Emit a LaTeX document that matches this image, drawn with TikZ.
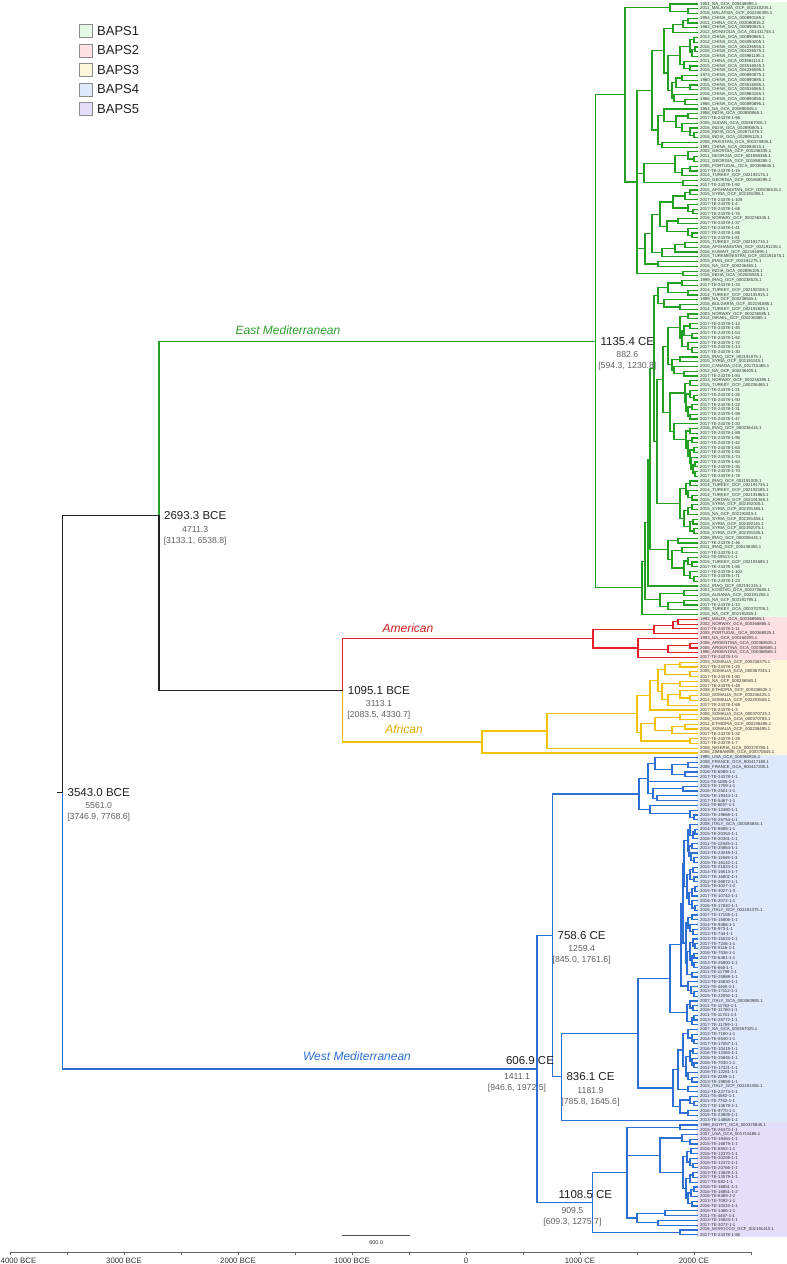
\documentclass[tikz,border=0pt]{standalone}
\usepackage{fontspec}
\setmainfont{Liberation Sans}
\usetikzlibrary{calc}

\definecolor{grn}{HTML}{23A023}
\definecolor{rd}{HTML}{E8202A}
\definecolor{yel}{HTML}{F2C100}
\definecolor{blu}{HTML}{2E6FD6}
\definecolor{blk}{HTML}{222222}
\definecolor{cEMc}{HTML}{2E9E2E}
\definecolor{cAMc}{HTML}{D01F1F}
\definecolor{cAFc}{HTML}{E0A800}
\definecolor{cWMc}{HTML}{2E6FD6}
\definecolor{bA}{HTML}{E4FAE4}
\definecolor{bB}{HTML}{FCE0E3}
\definecolor{bC}{HTML}{FDF6DA}
\definecolor{bD}{HTML}{DDE8FA}
\definecolor{bE}{HTML}{E5DEFA}

\tikzset{
  br/.style={line width=1.2pt, line cap=rect, line join=miter},
  leaflab/.style={anchor=west, inner sep=0pt, xshift=3pt, font=\fontsize{4.3}{4.3}\selectfont, text=black!80},
  nlab/.style={font=\fontsize{11.5}{12}\selectfont, text=black!88, inner sep=0pt},
  slab/.style={font=\fontsize{8.7}{9}\selectfont, text=black!62, inner sep=0pt},
  clab/.style={font=\itshape\fontsize{12}{13}\selectfont, inner sep=0pt},
  legbox/.style={draw=black!45, line width=0.6pt},
  legtxt/.style={anchor=west, inner sep=0pt, font=\fontsize{13}{14}\selectfont, text=black!88},
  axl/.style={draw=black!60, line width=0.6pt},
  axlab/.style={font=\fontsize{7.8}{8}\selectfont, text=black!80, inner sep=0pt},
  sbl/.style={draw=black!70, line width=0.7pt},
}

% ---------- stack-based tree machinery (postfix) ----------
\newcount\leafno \leafno=0
\newcount\ndcnt \ndcnt=0
\newcount\stkp \stkp=0
\def\cc{blk}
\def\stset#1#2#3#4{%
  \expandafter\xdef\csname sN#1\endcsname{#2}%
  \expandafter\xdef\csname sR#1\endcsname{#3}%
  \expandafter\xdef\csname sC#1\endcsname{#4}}
\def\stgetA#1{\edef\kAn{\csname sN#1\endcsname}\edef\kAr{\csname sR#1\endcsname}\edef\kAc{\csname sC#1\endcsname}}
\def\stgetB#1{\edef\kBn{\csname sN#1\endcsname}\edef\kBr{\csname sR#1\endcsname}\edef\kBc{\csname sC#1\endcsname}}
\def\stgetM#1{\edef\kMn{\csname sN#1\endcsname}\edef\kMr{\csname sR#1\endcsname}\edef\kMc{\csname sC#1\endcsname}}
\def\stgetP#1{\edef\kPn{\csname sN#1\endcsname}\edef\kPr{\csname sR#1\endcsname}\edef\kPc{\csname sC#1\endcsname}}
\newcommand\lf[1]{%
  \pgfmathsetmacro\yy{4+4.77*\the\leafno}%
  \edef\tnm{T\the\leafno}\edef\lnm{L\the\leafno}%
  \coordinate (\tnm) at (697,\yy);%
  \node[leaflab] (\lnm) at (\tnm) {\detokenize{#1}};%
  \global\advance\stkp by 1\relax
  \stset{\the\stkp}{\tnm}{\the\leafno}{\cc}%
  \global\advance\leafno by 1\relax}
\newcommand\mkme[1]{%
  \global\advance\ndcnt by 1\relax \edef\me{N\the\ndcnt}%
  \pgfmathsetmacro\rr{(\kAr+\kBr)/2}%
  \pgfmathsetmacro\yy{4+4.77*\rr}%
  \pgfmathsetmacro\yA{4+4.77*\kAr}%
  \pgfmathsetmacro\yB{4+4.77*\kBr}%
  \coordinate (\me) at (#1,\yy);%
  \draw[br,draw=\kAc] (\me) -- (#1,\yA) -- (\kAn);%
  \draw[br,draw=\kBc] (\me) -- (#1,\yB) -- (\kBn);}
\newcommand\J[1]{%
  \stgetA{\the\numexpr\stkp-1\relax}\stgetB{\the\stkp}%
  \mkme{#1}%
  \global\advance\stkp by -1\relax
  \stset{\the\stkp}{\me}{\rr}{\cc}}
\newcommand\Jt[1]{%
  \stgetA{\the\numexpr\stkp-2\relax}\stgetM{\the\numexpr\stkp-1\relax}\stgetB{\the\stkp}%
  \mkme{#1}%
  \pgfmathsetmacro\yM{4+4.77*\kMr}%
  \draw[br,draw=\kMc] (#1,\yM) -- (\kMn);%
  \global\advance\stkp by -2\relax
  \stset{\the\stkp}{\me}{\rr}{\cc}}
\newcommand\Jq[1]{%
  \stgetA{\the\numexpr\stkp-3\relax}\stgetM{\the\numexpr\stkp-2\relax}\stgetP{\the\numexpr\stkp-1\relax}\stgetB{\the\stkp}%
  \mkme{#1}%
  \pgfmathsetmacro\yM{4+4.77*\kMr}%
  \pgfmathsetmacro\yP{4+4.77*\kPr}%
  \draw[br,draw=\kMc] (#1,\yM) -- (\kMn);%
  \draw[br,draw=\kPc] (#1,\yP) -- (\kPn);%
  \global\advance\stkp by -3\relax
  \stset{\the\stkp}{\me}{\rr}{\cc}}
\newcommand\nm[1]{\edef\tmpn{\csname sN\the\stkp\endcsname}\coordinate (#1) at (\tmpn);}
\newcommand\rlab[4]{%
  \node[nlab,anchor=west] (lb#1) at ([xshift=5pt]#1) {#2};
  \node[slab] (lbs#1) at ([yshift=-13.5pt]lb#1.center) {#3};
  \node[slab] (lbt#1) at ([yshift=-25pt]lb#1.center) {#4};}
\newcommand\alab[4]{%
  \node[nlab] (lb#1) at ([xshift=-7pt,yshift=8pt]#1) {#2};
  \node[slab] (lbs#1) at ([xshift=-20pt,yshift=-8pt]#1) {#3};
  \node[slab] (lbt#1) at ([xshift=-20pt,yshift=-19.5pt]#1) {#4};}

% ---------- BAPS1 ----------
\def\stA{\lf{1951_NA_GCA_009448085.1}\lf{2011_MALAYSIA_GCF_002240205.1}\lf{2016_MALAYSIA_GCF_002240305.1}\J{688}\J{670}}
\def\stChA{\lf{1954_CHINA_GCA_000890165.2}\lf{2011_CHINA_GCA_002080815.2}\J{688}\lf{1963_CHINA_GCA_000890825.1}\J{683}\lf{2012_MONGOLIA_GCA_001431745.1}\J{673}}
\def\stChB{\lf{2013_CHINA_GCA_000890865.1}\lf{2012_CHINA_GCA_003094205.1}\J{694}%
  \lf{2016_CHINA_GCA_004236555.1}\lf{2016_CHINA_GCA_004236575.1}\J{695}\lf{2016_CHINA_GCA_003981185.1}\J{692}\J{690}%
  \lf{2011_CHINA_GCA_003984115.1}\lf{2015_CHINA_GCA_003516045.1}\lf{2016_CHINA_GCA_004236595.1}\J{690}\J{684}\J{680}}
\def\stChC{\lf{1973_CHINA_GCA_000890875.1}\lf{1960_CHINA_GCA_000890885.1}\J{682}\lf{2015_CHINA_GCA_003516085.1}\lf{2015_CHINA_GCA_003516065.1}\J{690}\J{676}%
  \lf{2016_CHINA_GCA_003984165.1}\lf{1966_CHINA_GCA_000890855.1}\lf{1966_CHINA_GCA_000890895.1}\J{685}\J{674}\J{672}}
\def\stChina{\stChA\stChB\stChC\J{668}\J{664}}
\def\stInd{\lf{1954_NA_GCA_000890845.1}\lf{1958_INDIA_GCA_000890865.1}\lf{2017-TE-24378-1-98}\J{688}%
  \lf{2005_SUDAN_GCA_000367005.1}\lf{2016_INDIA_GCA_002890805.1}\lf{2016_INDIA_GCA_002871075.1}\lf{2016_INDIA_GCA_002895125.1}\J{694}\J{690}\J{682}\J{676}\J{664}%
  \lf{2008_PAKISTAN_GCA_000370805.1}\lf{1991_CHINA_GCA_002084015.1}\J{662}\J{658}}
\def\stGeo{\lf{2002_GEORGIA_GCF_000236335.1}\lf{2011_GEORGIA_GCF_001858365.1}\lf{2012_GEORGIA_GCF_001858285.1}\J{694}\J{688}%
  \lf{2006_PORTUGAL_GCA_000368845.1}\lf{2017-TE-24378-1-15}\J{690}\lf{2014_TURKEY_GCF_002192175.1}\J{682}\J{675}%
  \lf{2010_GEORGIA_GCF_001858295.1}\lf{2017-TE-24378-1-92}\J{683}\J{644}}
\def\stMidA{\lf{2015_AFGHANISTAN_GCF_000236515.1}\lf{2015_SYRIA_GCF_002191095.1}\J{690}\lf{2017-TE-24378-1-106}\J{685}%
  \lf{2017-TE-24378-1-4}\lf{2017-TE-24378-1-68}\lf{2017-TE-24378-1-76}\J{693}\J{688}\J{673}%
  \lf{2016_NORWAY_GCF_000236345.1}\lf{2017-TE-24378-1-37}\J{678}%
  \lf{2017-TE-24378-1-41}\lf{2017-TE-24378-1-88}\lf{2017-TE-24378-1-81}\J{692}\J{688}\J{667}\J{660}}
\def\stMid{\stMidA\lf{2015_TURKEY_GCF_002191715.1}\lf{2016_AFGHANISTAN_GCF_002191235.1}\J{685}\lf{2016_KUWAIT_GCF_002191695.1}\J{675}%
  \lf{2015_TURKMENISTAN_GCF_002191575.1}\J{662}\J{652}%
  \lf{2015_IRAN_GCF_002191275.1}\lf{2016_NA_GCF_000236465.1}\J{658}\J{645}}
\def\stB{\stChina\stInd\J{652}\stGeo\stMid\lf{2016_INDIA_GCA_002895105.1}\lf{2016_INDIA_GCA_002005535.1}\J{683}\Jq{637}}
\def\stCone{\stA\stB\J{625}}

\def\stRa{\lf{1999_IRAQ_GCF_000238525.1}\lf{2017-TE-24378-1-33}\J{682}\lf{2014_TURKEY_GCF_002192155.1}\lf{2014_TURKEY_GCF_002191915.1}\J{688}\J{668}%
  \lf{1999_NA_GCF_000238555.1}\lf{2016_BULGARIA_GCF_002191885.1}\lf{2014_TURKEY_GCF_002191625.1}\J{680}\J{664}\J{658}}
\def\stSa{\lf{2003_NORWAY_GCF_000236585.1}\lf{2014_ISRAEL_GCF_000236365.1}\J{688}%
  \lf{2017-TE-24378-1-12}\lf{2017-TE-24378-1-45}\J{690}\lf{2017-TE-24378-1-54}\lf{2017-TE-24378-1-62}\J{692}\J{684}%
  \lf{2017-TE-24378-1-72}\lf{2017-TE-24378-1-14}\lf{2017-TE-24378-1-30}\J{692}\J{688}\J{682}\J{680}%
  \lf{2015_IRAQ_GCF_002191875.1}\lf{2015_SYRIA_GCF_002191515.1}\J{680}%
  \lf{2010_CANADA_GCA_001715465.1}\lf{2012_NA_GCF_000236405.1}\lf{2017-TE-24378-1-84}\J{684}\J{674}\J{672}\J{668}}
\def\stSb{\lf{2013_NORWAY_GCF_000236385.1}\lf{2015_TURKEY_GCF_000236465.1}\J{690}%
  \lf{2017-TE-24378-1-21}\lf{2017-TE-24378-1-26}\lf{2017-TE-24378-1-50}\J{694}\J{690}%
  \lf{2017-TE-24378-1-22}\lf{2017-TE-24378-1-31}\J{692}\lf{2017-TE-24378-1-99}\lf{2017-TE-24378-1-47}\J{690}\J{688}\J{686}\J{685}%
  \lf{2017-TE-24378-1-20}%
  \lf{2016_IRAQ_GCF_000236415.1}\lf{2017-TE-24378-1-89}\J{690}%
  \lf{2017-TE-24378-1-96}\lf{2017-TE-24378-1-42}\J{692}%
  \lf{2017-TE-24378-1-63}\lf{2017-TE-24378-1-65}\J{694}%
  \lf{2017-TE-24378-1-74}%
  \lf{2017-TE-24378-1-64}\lf{2017-TE-24378-1-35}\J{695}\lf{2017-TE-24378-1-70}\lf{2017-TE-24378-1-78}\J{695}%
  \J{693}\J{691}\J{690}\J{688}\J{686}\J{674}\J{670}}
\def\stRc{\lf{2014_IRAQ_GCF_002191005.1}\lf{2014_TURKEY_GCF_002191735.1}\J{690}%
  \lf{2014_TURKEY_GCF_002192185.1}\lf{2014_TURKEY_GCF_002191865.1}\lf{2015_JORDAN_GCF_002191365.1}\J{692}\J{688}\J{686}%
  \lf{2015_SYRIA_GCF_002192005.1}\lf{2015_SYRIA_GCF_002191485.1}\J{692}\lf{2015_NA_GCF_002191815.1}\J{688}%
  \lf{2015_SYRIA_GCF_002191455.1}\lf{2015_SYRIA_GCF_002192115.1}\J{693}\lf{2016_SYRIA_GCF_002192075.1}\lf{2016_SYRIA_GCF_002191535.1}\J{694}\J{690}\J{684}\J{680}}
\def\stRd{\lf{2008_IRAQ_GCF_000008445.1}\lf{2017-TE-24378-1-46}\J{678}%
  \lf{2011_IRAQ_GCF_000236355.1}\lf{2017-TE-24378-1-2}\J{682}%
  \lf{2011-TE-19513-1-1}\lf{2015_TURKEY_GCF_002191685.1}\lf{2017-TE-24378-1-85}\J{692}\J{688}%
  \lf{2017-TE-24378-1-102}\lf{2017-TE-24378-1-71}\lf{2017-TE-24378-1-23}\J{694}\J{690}\J{684}\J{672}\J{668}}
\def\stCtwo{\stRa\stSa\stSb\J{663}\stRc\J{657}\J{654}\stRd\J{650}\lf{2014_IRAQ_GCF_002191315.1}\J{648}%
  \lf{2001_KOSOVO_GCA_000370685.1}\lf{2015_ALBANIA_GCF_002191255.1}\J{684}%
  \lf{2015_NA_GCF_002191795.1}\lf{2017-TE-24378-1-13}\J{684}\lf{2005_TURKEY_GCA_000370705.1}\J{668}\J{660}\J{645}%
  \lf{2015_NA_GCF_002191835.1}\J{642}}
\def\stEM{\stCone\stCtwo\J{595.4}}

% ---------- BAPS2 / BAPS3 ----------
\def\stAM{\lf{1992_MALTA_GCA_000368965.1}\lf{2002_NORWAY_GCA_000368865.1}\J{678}\lf{2017-TE-24378-1-11}\J{673}\lf{2005_PORTUGAL_GCA_000368925.1}\J{654}%
  \lf{1993_NA_GCA_000160205.1}\lf{2006_ARGENTINA_GCA_000368525.1}\lf{2006_ARGENTINA_GCA_000368585.1}\J{690}\lf{1996_ARGENTINA_GCA_000368565.1}\J{668}%
  \lf{2017-TE-24378-1-5}\Jt{638}\J{593}}
\def\stAF{\lf{2003_SOMALIA_GCF_000236375.1}\lf{2017-TE-24378-1-25}\J{680}\lf{2005_SOMALIA_GCA_000367045.1}\lf{2017-TE-24378-1-80}\J{690}\J{665}%
  \lf{2005_NA_GCF_000236565.1}\lf{2017-TE-24378-1-48}\J{680}%
  \lf{2008_ETHIOPIA_GCF_000236525.1}\lf{2010_SOMALIA_GCF_000236425.1}\lf{2014_SOMALIA_GCF_002191505.1}\J{690}\J{680}%
  \lf{2017-TE-24378-1-69}\J{668}\J{662}\J{658}%
  \lf{2017-TE-24378-1-3}\J{650}%
  \lf{2006_SOMALIA_GCA_000370725.1}\lf{2006_SOMALIA_GCA_000370765.1}\J{680}%
  \lf{2012_ETHIOPIA_GCF_000236485.1}\lf{2016_SOMALIA_GCF_000236495.1}\J{685}\lf{2017-TE-24378-1-32}\J{672}\J{655}%
  \lf{2017-TE-24378-1-29}\lf{2017-TE-24378-1-7}\J{690}\J{641}\J{637}%
  \lf{2008_NIGERIA_GCA_000370785.1}\J{547}%
  \lf{2006_ZIMBABWE_GCA_000370645.1}\J{482}}

% ---------- BAPS4 / BAPS5 ----------
\def\stU{\lf{1995_USA_GCA_000960815.1}\lf{2008_FRANCE_GCA_900417185.1}\lf{2008_FRANCE_GCA_900417205.1}\J{688}%
  \lf{2016-TE-6089-1-1}\lf{2017-TE-24378-1-1}\J{685}\J{672}\J{655}%
  \lf{2011-TE-1085-1-1}%
  \lf{2013-TE-1759-1-1}\lf{2016-TE-2501-1-1}\J{683}\lf{2016-TE-19344-1-1}\lf{2017-TE-5467-1-1}\J{657}\J{653}\Jt{648}%
  \lf{2011-TE-6057-1-1}\lf{2013-TE-12480-1-1}\lf{2015-TE-19668-1-1}\lf{2013-TE-25753-1-1}\J{694}\J{690}\J{650}\J{639}}
\def\stXone{\lf{2008_ITALY_GCA_000385845.1}\lf{2014-TE-8688-1-1}\lf{2015-TE-20353-1-1}\J{695}\lf{2016-TE-20301-1-1}\J{693}\J{690}%
  \lf{2011-TE-12849-1-1}\lf{2013-TE-25864-1-1}\J{692}%
  \lf{2012-TE-24249-1-1}\lf{2015-TE-11849-1-3}\lf{2015-TE-16142-1-1}\J{694}\J{691}\J{689}\J{688}%
  \lf{2015-TE-21824-1-1}\lf{2014-TE-16513-1-7}\J{693}\lf{2017-TE-16802-1-1}\lf{2012-TE-26872-1-1}\J{694}\J{690}%
  \lf{2015-TE-3027-1-2}\lf{2015-TE-3027-1-3}\J{695}\lf{2017-TE-10742-1-1}\J{692}%
  \lf{2016-TE-2072-1-1}\lf{2016-TE-17840-1-1}\lf{2016_ITALY_GCF_002191375.1}\J{695}\J{692}\J{689}\J{687}\J{684}}
\def\stXtwo{\lf{2017-TE-17159-1-1}\lf{2013-TE-15806-1-1}\J{692}\lf{2014-TE-9486-1-1}\lf{2013-TE-973-1-1}\lf{2013-TE-744-1-1}\J{693}\J{690}\J{688}%
  \lf{2013-TE-15023-1-1}\lf{2017-TE-7246-1-1}\lf{2016-TE-5116-1-1}\J{695}\J{693}%
  \lf{2016-TE-7536-1-1}\lf{2017-TE-6481-1-1}\J{694}\lf{2013-TE-25800-1-1}\lf{2016-TE-660-1-1}\J{694}\J{692}\J{690}%
  \lf{2011-TE-11798-1-1}\lf{2013-TE-25868-1-1}\J{692}\J{687}\J{686}}
\def\stXbot{\lf{2013-TE-15830-1-1}\lf{2011-TE-4460-1-1}\lf{2013-TE-17112-1-1}\lf{2015-TE-22092-1-1}\J{694}\J{691}\J{688}}
\def\stY{\lf{2007_ITALY_GCA_000360985.1}\lf{2011-TE-11762-1-1}\lf{2016-TE-11760-1-1}\J{693}\J{690}%
  \lf{2011-TE-11761-1-1}\lf{2013-TE-25772-1-1}\J{694}\lf{2017-TE-11769-1-1}\J{692}\J{687}}
\def\stMb{\lf{2007_NA_GCA_000357025.1}\lf{2012-TE-7180-1-1}\lf{2014-TE-5540-1-1}\lf{2017-TE-17057-1-1}\J{694}\J{692}\J{688}%
  \lf{2016-TE-10419-1-1}\lf{2016-TE-12383-1-1}\J{693}\lf{2016-TE-25845-1-1}\lf{2016-TE-7030-1-1}\lf{2012-TE-17321-1-1}\J{694}\J{692}\J{690}%
  \lf{2016-TE-12261-1-1}\lf{2011-TE-2289-1-1}\lf{2013-TE-19859-1-1}\J{692}\J{688}\J{686}\J{683}%
  \lf{2015_ITALY_GCF_002191355.1}\lf{2012-TE-22773-1-1}\J{688}\J{678}%
  \lf{2011-TE-4582-1-1}\lf{2011-TE-7752-1-1}\lf{2017-TE-13679-1-1}\J{694}\J{690}\lf{2016-TE-9770-1-1}\lf{2015-TE-23809-1-1}\J{688}\J{680}\J{673}}
\def\stWE{\stXone\stXtwo\J{683}\stXbot\J{681}\stY\J{670}\stMb\J{638}\lf{2013-TE-14868-1-1}\J{561.3}\nm{w836}}
\def\stQmid{\lf{2007_USA_GCA_001715485.1}\lf{2013-TE-19464-1-1}\lf{2015-TE-16879-1-1}\J{690}\J{682}%
  \lf{2016-TE-6652-1-1}\lf{2016-TE-12370-1-1}\J{691}\lf{2015-TE-20259-1-1}\lf{2016-TE-12372-1-1}\lf{2015-TE-20766-1-1}\J{693}\J{690}\J{687}%
  \lf{2013-TE-13829-1-1}\lf{2017-TE-13579-1-1}\J{693}\lf{2017-TE-582-1-1}\J{690}%
  \lf{2016-TE-16851-1-1}\lf{2016-TE-16851-1-2}\J{694}\lf{2016-TE-6469-1-2}\J{691}\lf{2013-TE-7092-1-1}\lf{2016-TE-10315-1-1}\J{692}\J{688}\J{686}\J{683}\J{660}}
\def\stQbot{\lf{2016-TE-1486-1-1}\lf{2011-TE-4467-1-1}\J{665}\lf{2013-TE-15824-1-1}\lf{2017-TE-3072-1-1}\J{658}\J{637}}
\def\stWM{\stU\stWE\J{552.5}\nm{w758}%
  \lf{1998_EGYPT_GCA_000370845.1}\lf{2015-TE-26373-1-1}\J{680}\stQmid\stQbot\Jt{627}%
  \lf{2016_MOROCCO_GCF_002191415.1}\lf{2017-TE-24378-1-86}\J{680}\J{592.4}\nm{w1108}\J{537}}

\begin{document}
\begin{tikzpicture}[x=1pt,y=-1pt]
\useasboundingbox (0,0) rectangle (787,1264);
\fill[white] (0,0) rectangle (787,1264);

% BAPS bands behind the tip labels
\fill[bA] (697,1.6) rectangle (787,616.9);
\fill[bB] (697,616.9) rectangle (787,659.9);
\fill[bC] (697,659.9) rectangle (787,755.3);
\fill[bD] (697,755.3) rectangle (787,1122.6);
\fill[bE] (697,1122.6) rectangle (787,1237.0);

% legend
\foreach \i/\cl/\tx in {0/bA/BAPS1,1/bB/BAPS2,2/bC/BAPS3,3/bD/BAPS4,4/bE/BAPS5}{
  \pgfmathsetmacro\ly{31+19.5*\i}
  \draw[legbox,fill=\cl] (79,\ly-6.5) rectangle (92,\ly+6.5);
  \node[legtxt] (leg\i) at (97,\ly) {\tx};
}

% tree (postfix: leaves push, joins pop)
\def\cc{grn}\stEM\nm{em}
\def\cc{rd}\stAM\nm{am}
\def\cc{yel}\stAF\nm{af}
\def\cc{blk}\J{342.7}\nm{n1095}
\J{159}\nm{n2693}
\def\cc{blu}\stWM\nm{w607}
\def\cc{blk}\J{62.5}\nm{root}
\draw[br,blk] (root) -- ++(-5,0);

% node labels
\rlab{root}{3543.0 BCE}{5561.0}{[3746.9, 7768.6]}
\rlab{n2693}{2693.3 BCE}{4711.3}{[3133.1, 6538.8]}
\rlab{em}{1135.4 CE}{882.6}{[594.3, 1230.8]}
\rlab{n1095}{1095.1 BCE}{3113.1}{[2083.5, 4330.7]}
\rlab{w758}{758.6 CE}{1259.4}{[845.0, 1761.6]}
\rlab{w836}{836.1 CE}{1181.9}{[785.8, 1645.6]}
\alab{w607}{606.9 CE}{1411.1}{[946.6, 1972.5]}
\alab{w1108}{1108.5 CE}{909.5}{[609.3, 1275.7]}

% clade labels
\coordinate (xem) at (288,0);
\coordinate (xam) at (408,0);
\coordinate (xaf) at (404,0);
\coordinate (xwm) at (357,0);
\node[clab,text=cEMc,yshift=11pt] (lEM) at (xem|-em) {East Mediterranean};
\node[clab,text=cAMc,yshift=11pt] (lAM) at (xam|-am) {American};
\node[clab,text=cAFc,yshift=13pt] (lAF) at (xaf|-af) {African};
\node[clab,text=cWMc,yshift=13pt] (lWM) at (xwm|-w607) {West Mediterranean};

% scale bar
\coordinate (sb1) at (342,1235);
\coordinate (sb2) at (410.4,1235);
\draw[sbl] (sb1) -- (sb2);
\node[axlab,font=\fontsize{5.5}{6}\selectfont] (sblab) at ($(sb1)!0.5!(sb2)+(0,8)$) {600.0};

% time axis
\coordinate (ax0) at (10,1252);
\coordinate (ax1) at (751,1252);
\draw[axl] (ax0) -- (ax1);
\foreach \i in {0,...,13}{
  \coordinate (tk\i) at ({10+57*\i},1252);
  \draw[axl] (tk\i) -- ++(0,3);
}
\node[axlab,anchor=west] (tl0) at ([yshift=-9pt,xshift=-9.5pt]tk0) {4000 BCE};
\foreach \i/\tx in {2/3000 BCE,4/2000 BCE,6/1000 BCE,8/0,10/1000 CE,12/2000 CE}{
  \node[axlab] (tl\i) at ([yshift=-9pt]tk\i) {\tx};
}
\end{tikzpicture}
\end{document}
